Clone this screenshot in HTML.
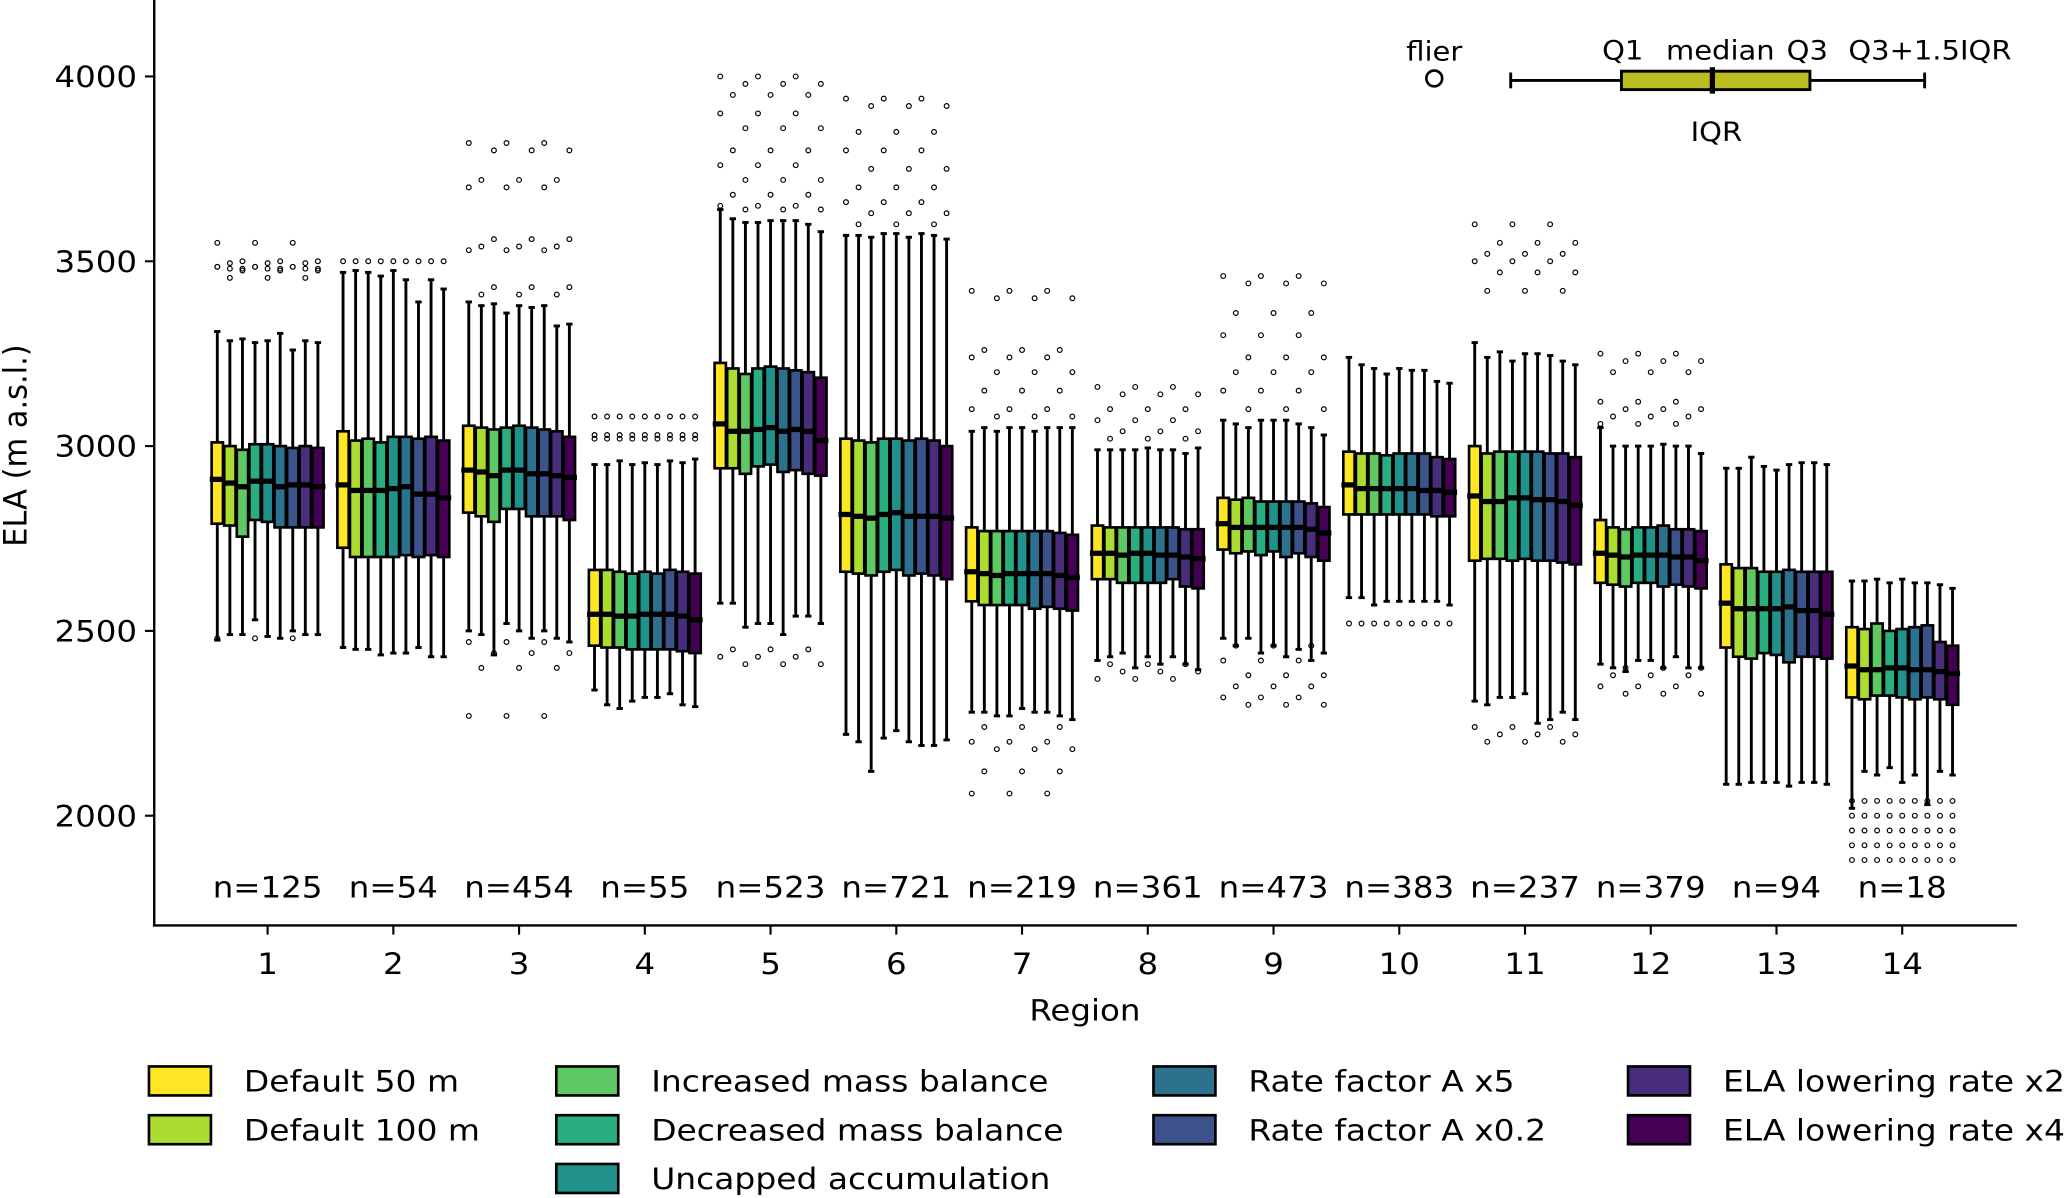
<!DOCTYPE html>
<html><head><meta charset="utf-8"><style>
html,body{margin:0;padding:0;background:#fff}
svg{display:block}
text{font-family:"DejaVu Sans","Liberation Sans",sans-serif;fill:#000}
</style></head><body>
<svg id="chart" width="2067" height="1198" viewBox="0 0 1568 908.8" preserveAspectRatio="none" xmlns="http://www.w3.org/2000/svg">
<g id="plot"></g>
<g id="axes"></g>
<g id="inset">
  <text transform="translate(1088,46) scale(1.1,1)" font-size="20" text-anchor="middle">flier</text>
  <circle cx="1088" cy="59.5" r="6" fill="none" stroke="#000" stroke-width="2"/>
  <line x1="1146" y1="61" x2="1460" y2="61" stroke="#000" stroke-width="2.2"/>
  <line x1="1146" y1="55" x2="1146" y2="67" stroke="#000" stroke-width="2.2"/>
  <line x1="1460" y1="55" x2="1460" y2="67" stroke="#000" stroke-width="2.2"/>
  <rect x="1230" y="54" width="143" height="14" fill="#bcbd22" stroke="#000" stroke-width="2.2"/>
  <line x1="1299" y1="51" x2="1299" y2="71" stroke="#000" stroke-width="4"/>
  <text transform="translate(1231,45) scale(1.1,1)" font-size="20" text-anchor="middle">Q1</text>
  <text transform="translate(1305,45) scale(1.1,1)" font-size="20" text-anchor="middle">median</text>
  <text transform="translate(1371,45) scale(1.1,1)" font-size="20" text-anchor="middle">Q3</text>
  <text transform="translate(1464,45) scale(1.1,1)" font-size="20" text-anchor="middle">Q3+1.5IQR</text>
  <text transform="translate(1302,107) scale(1.1,1)" font-size="20" text-anchor="middle">IQR</text>
</g>
<g id="legend"></g>
</svg>
<script>
const regions = [1,2,3,4,5,6,7,8,9,10,11,12,13,14];
const counts = [125,54,454,55,523,721,219,361,473,383,237,379,94,18];
const scenarios = ["Default 50 m","Default 100 m","Increased mass balance","Decreased mass balance","Uncapped accumulation","Rate factor A x5","Rate factor A x0.2","ELA lowering rate x2","ELA lowering rate x4"];
const colors = ["#fde725","#addc30","#5ec962","#28ae80","#21918c","#2c728e","#3b528b","#472d7b","#440154"];
const yTicks = [2000,2500,3000,3500,4000];
const whiskLo = [
 [2475,2490,2490,2530,2485,2480,2500,2490,2490],
 [2455,2450,2450,2435,2440,2440,2455,2430,2430],
 [2500,2490,2435,2520,2500,2480,2500,2480,2470],
 [2340,2300,2290,2310,2320,2320,2330,2300,2295],
 [2575,2575,2510,2520,2520,2490,2540,2540,2520],
 [2220,2200,2120,2210,2230,2200,2190,2190,2205],
 [2280,2280,2270,2270,2290,2280,2280,2270,2260],
 [2420,2430,2440,2400,2430,2410,2430,2410,2395],
 [2480,2460,2480,2440,2460,2430,2450,2420,2440],
 [2590,2590,2570,2580,2580,2580,2580,2580,2570],
 [2310,2300,2320,2320,2330,2250,2260,2280,2260],
 [2410,2400,2390,2420,2420,2400,2430,2400,2400],
 [2085,2085,2090,2090,2090,2080,2090,2090,2085],
 [2020,2120,2110,2130,2090,2110,2030,2120,2110]];
const q1 = [
 [2790,2785,2755,2800,2795,2780,2780,2780,2780],
 [2725,2700,2700,2700,2700,2705,2700,2705,2700],
 [2820,2810,2795,2830,2830,2810,2810,2810,2800],
 [2460,2455,2455,2450,2450,2450,2450,2445,2440],
 [2940,2940,2925,2945,2950,2930,2935,2925,2920],
 [2660,2655,2650,2660,2665,2650,2655,2650,2640],
 [2580,2570,2570,2570,2570,2560,2565,2560,2555],
 [2640,2640,2630,2630,2630,2630,2640,2620,2615],
 [2720,2710,2715,2705,2715,2700,2710,2700,2690],
 [2815,2815,2815,2815,2815,2815,2815,2810,2810],
 [2690,2695,2695,2690,2695,2690,2690,2685,2680],
 [2630,2625,2620,2630,2630,2620,2625,2620,2615],
 [2455,2430,2425,2440,2435,2415,2430,2430,2425],
 [2320,2315,2325,2325,2320,2315,2320,2315,2300]];
const med = [
 [2910,2900,2890,2905,2905,2890,2895,2895,2890],
 [2895,2880,2880,2880,2885,2890,2870,2870,2860],
 [2935,2930,2920,2935,2935,2925,2925,2920,2915],
 [2545,2545,2540,2540,2545,2545,2545,2540,2530],
 [3060,3040,3040,3045,3050,3040,3045,3040,3015],
 [2815,2810,2805,2815,2820,2810,2810,2810,2805],
 [2660,2655,2650,2655,2655,2655,2655,2650,2645],
 [2710,2710,2705,2710,2710,2705,2705,2700,2695],
 [2790,2780,2780,2780,2780,2780,2780,2775,2765],
 [2895,2885,2885,2885,2885,2885,2880,2880,2875],
 [2865,2850,2850,2860,2860,2855,2855,2850,2840],
 [2710,2705,2700,2705,2705,2705,2700,2700,2690],
 [2575,2560,2560,2560,2560,2565,2555,2555,2545],
 [2405,2395,2395,2400,2400,2395,2395,2390,2385]];
const q3 = [
 [3010,3000,2990,3005,3005,3000,2995,3000,2995],
 [3040,3015,3020,3010,3025,3025,3020,3025,3015],
 [3055,3050,3045,3050,3055,3050,3045,3040,3025],
 [2665,2665,2660,2655,2660,2655,2665,2660,2655],
 [3225,3210,3195,3210,3215,3210,3205,3200,3185],
 [3020,3015,3010,3020,3020,3015,3020,3015,3000],
 [2780,2770,2770,2770,2770,2770,2770,2765,2760],
 [2785,2780,2780,2780,2780,2780,2780,2775,2775],
 [2860,2855,2860,2850,2850,2850,2850,2845,2835],
 [2985,2980,2980,2975,2980,2980,2980,2970,2965],
 [3000,2980,2985,2985,2985,2985,2980,2980,2970],
 [2800,2780,2775,2780,2780,2785,2775,2775,2770],
 [2680,2670,2670,2660,2660,2665,2660,2660,2660],
 [2510,2505,2520,2500,2505,2510,2515,2470,2460]];
const whiskHi = [
 [3310,3285,3290,3280,3285,3305,3260,3285,3280],
 [3470,3475,3470,3460,3475,3450,3390,3450,3425],
 [3390,3380,3385,3360,3380,3375,3380,3325,3330],
 [2950,2950,2960,2950,2955,2950,2960,2955,2965],
 [3640,3615,3605,3605,3610,3610,3610,3600,3580],
 [3570,3570,3565,3575,3575,3565,3575,3570,3560],
 [3040,3050,3040,3050,3050,3040,3050,3050,3050],
 [2990,2990,2990,2990,2995,2990,2990,2980,2995],
 [3070,3060,3050,3070,3070,3070,3060,3050,3030],
 [3240,3220,3210,3195,3210,3205,3205,3175,3170],
 [3280,3240,3255,3230,3250,3250,3245,3230,3220],
 [3050,3000,3000,3000,3000,3005,3000,3000,2980],
 [2940,2940,2970,2945,2935,2950,2955,2955,2950],
 [2635,2635,2640,2630,2640,2630,2630,2625,2615]];
const fliersHi = [
 [3550,3475,3480,3485,3480,3455,3485,3500,3495],
 [3500],
 [3820,3800,3720,3700,3560,3540,3530,3430,3410],
 [3020,3030,3080],
 [4000,3980,3950,3900,3860,3800,3760,3720,3680,3650,3640],
 [3940,3920,3850,3800,3750,3700,3660,3630,3600],
 [3420,3400,3260,3240,3200,3150,3100,3080],
 [3160,3140,3100,3070,3040,3020],
 [3460,3440,3360,3300,3240,3200,3150,3100],
 [],
 [3600,3550,3520,3500,3470,3420],
 [3250,3230,3200,3120,3100,3080,3060],
 [],
 []];
const fliersLo = [
 [2480],
 [],
 [2470,2440,2400,2270],
 [],
 [2450,2430,2410],
 [],
 [2240,2200,2180,2120,2060],
 [2370,2390,2410],
 [2460,2420,2380,2350,2320,2300],
 [2520],
 [2240,2220,2200],
 [2400,2380,2350,2330],
 [],
 [2040,2000,1960,1920,1880]];

const NS='http://www.w3.org/2000/svg';
const X0=203, DX=95.385, Y4000=58, PX_PER=140.2/500, SX=1.12;
function xScale(r){return X0+(r-1)*DX;}
function yScale(v){return Y4000+(4000-v)*PX_PER;}
function mk(tag,attrs,parent){const e=document.createElementNS(NS,tag);for(const k in attrs)e.setAttribute(k,attrs[k]);parent.appendChild(e);return e;}
function txt(x,y,size,anchor,parent){return mk('text',{transform:'translate('+x+','+y+') scale('+SX+',1)','font-size':size,'text-anchor':anchor},parent);}
const plot=document.getElementById('plot'), axes=document.getElementById('axes'), legend=document.getElementById('legend');
const bw=DX*0.09;
regions.forEach((r,ri)=>{
  const g=mk('g',{},plot);
  
  
  for(let s=0;s<9;s++){
    const cx=xScale(r)+(s-4)*DX*0.1;
    const wl=mk('line',{x1:cx,x2:cx,y1:yScale(whiskLo[ri][s]),y2:yScale(whiskHi[ri][s]),stroke:'#000','stroke-width':2.2},g);
    
    
    [whiskLo[ri][s],whiskHi[ri][s]].forEach(v=>{
      const c=mk('line',{x1:cx-2.4,x2:cx+2.4,y1:yScale(v),y2:yScale(v),stroke:'#000','stroke-width':2.2},g);
      
      
    });
    const b=mk('rect',{x:cx-bw/2,y:yScale(q3[ri][s]),width:bw,height:yScale(q1[ri][s])-yScale(q3[ri][s]),fill:colors[s],stroke:'#000','stroke-width':2},g);
    
    
    const m=mk('line',{x1:cx-DX*0.06,x2:cx+DX*0.06,y1:yScale(med[ri][s]),y2:yScale(med[ri][s]),stroke:'#000','stroke-width':4},g);
    
    
    fliersHi[ri].concat(fliersLo[ri]).forEach((v,k)=>{
      if((s+k)%3===0 || fliersHi[ri].length<=3){
        const f=mk('circle',{cx:cx,cy:yScale(v),r:1.8,fill:'none',stroke:'#000','stroke-width':0.9},g);
        
        
      }
    });
  }
  const t=txt(xScale(r),681,22,'middle',g);
  t.textContent='n='+counts[ri];
  
  
  const tk=mk('line',{x1:xScale(r),x2:xScale(r),y1:702,y2:709,stroke:'#000','stroke-width':1.6},axes);
  
  
  const tl=txt(xScale(r),739,22,'middle',axes);
  tl.textContent=r;
  
  
});
const yax=mk('line',{x1:117,x2:117,y1:0,y2:702,stroke:'#000','stroke-width':1.8},axes);


const xax=mk('line',{x1:116,x2:1530,y1:702,y2:702,stroke:'#000','stroke-width':1.8},axes);


yTicks.forEach(v=>{
  const tk=mk('line',{x1:110,x2:117,y1:yScale(v),y2:yScale(v),stroke:'#000','stroke-width':1.6},axes);
  
  
  const tl=txt(104,yScale(v)+8,22,'end',axes);
  tl.textContent=v;
  
  
});
const xt=txt(823,774,22,'middle',axes);
xt.textContent='Region';


const yt=mk('text',{transform:'translate(20,338) rotate(-90) scale(1.05,1.1)','font-size':22,'text-anchor':'middle'},axes);
yt.textContent='ELA (m a.s.l.)';


const colX=[113,422,875,1235], rowY=[820,857,894];
const layout=[[0,0],[0,1],[1,0],[1,1],[1,2],[2,0],[2,1],[3,0],[3,1]];
scenarios.forEach((name,i)=>{
  const [c,rw]=layout[i];
  const g=mk('g',{},legend);
  
  
  mk('rect',{x:colX[c],y:rowY[rw]-11,width:47,height:22,fill:colors[i],stroke:'#000','stroke-width':2},g);
  const t=txt(colX[c]+72,rowY[rw]+8,22.3,'start',g);
  t.textContent=name;
});
</script>
</body></html>
